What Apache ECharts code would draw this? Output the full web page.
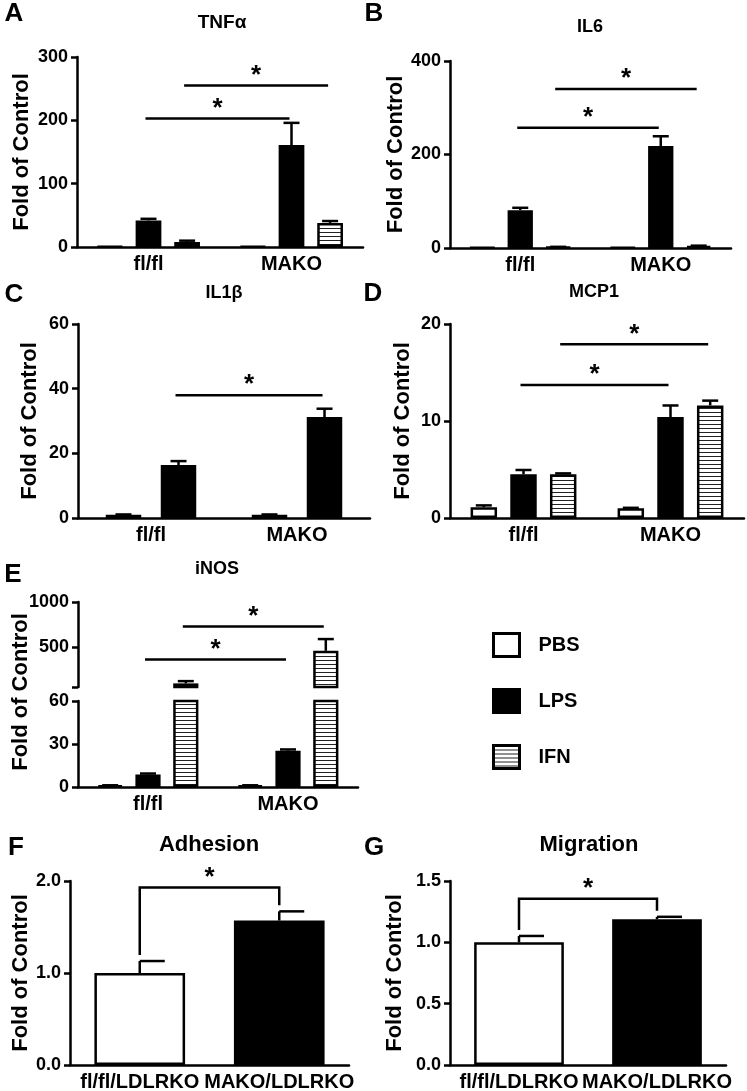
<!DOCTYPE html>
<html>
<head>
<meta charset="utf-8">
<script src="https://cdn.jsdelivr.net/npm/echarts@6/dist/echarts.min.js"></script>
<style>
  html, body { margin: 0; padding: 0; background: #fff; }
  #main { width: 747px; height: 1091px; }
</style>
</head>
<body>
<div id="main"></div>
<script>
// ---- data (values are [fl/fl, MAKO]) ----
const groups = ['fl/fl', 'MAKO'];
const groupsLdlr = ['fl/fl/LDLRKO', 'MAKO/LDLRKO'];
const treatments = ['PBS', 'LPS', 'IFN'];

const tnfPBS = [1, 1], tnfLPS = [42, 161], tnfIFN = [8, 38];
const tnfPBSErr = [0, 0], tnfLPSErr = [2.5, 35], tnfIFNErr = [2, 3];
const tnfTicks = [0, 100, 200, 300];
const tnfSig = [[1, 203], [2, 255]]; // [treatment index, height]

const il6PBS = [1, 1], il6LPS = [81, 218], il6IFN = [2, 4];
const il6PBSErr = [0, 0], il6LPSErr = [5, 21], il6IFNErr = [0.5, 1];
const il6Ticks = [0, 200, 400];
const il6Sig = [[1, 257], [2, 340]];

const il1bPBS = [1, 1], il1bLPS = [16.4, 31.2];
const il1bPBSErr = [0.1, 0.1], il1bLPSErr = [1.2, 2.6];
const il1bTicks = [0, 20, 40, 60];
const il1bSig = [[1, 38]];

const mcpPBS = [1.1, 1.0], mcpLPS = [4.5, 10.4], mcpIFN = [4.5, 11.6];
const mcpPBSErr = [0.2, 0.05], mcpLPSErr = [0.45, 1.2], mcpIFNErr = [0.1, 0.5];
const mcpTicks = [0, 10, 20];
const mcpSig = [[1, 13.7], [2, 17.9]];

const inosPBS = [1, 1], inosLPS = [8.7, 25.3], inosIFN = [100, 460];
const inosPBSErr = [0.2, 0.2], inosLPSErr = [0.7, 0.9], inosIFNErr = [25, 130];
const inosLowTicks = [0, 30, 60];
const inosHighTicks = [500, 1000];
const inosBreak = 60;
const inosSig = [[1, 365], [2, 728]];

const adhesion = [1.0, 1.57], adhesionErr = [0.13, 0.1];
const adhesionTicks = [0, 1, 2];
const adhesionSig = 1.93;

const migration = [1.0, 1.188], migrationErr = [0.052, 0.02];
const migrationTicks = [0, 0.5, 1, 1.5];
const migrationSig = 1.356;

// ---- styling helpers ----
const FONT = '"Liberation Sans", Arial, Helvetica, sans-serif';
const LW = 2.5;

const stripe = document.createElement('canvas');
stripe.width = 4; stripe.height = 4;
const sctx = stripe.getContext('2d');
sctx.fillStyle = '#fff'; sctx.fillRect(0, 0, 4, 4);
sctx.fillStyle = '#222'; sctx.fillRect(0, 0, 4, 1);
const fills = { PBS: '#fff', LPS: '#000', IFN: { image: stripe, repeat: 'repeat' } };

const option = {
  animation: false,
  backgroundColor: '#fff',
  grid: [], xAxis: [], yAxis: [], series: [], graphic: [],
  legend: {
    data: treatments,
    orient: 'vertical',
    left: 487, top: 627,
    itemWidth: 26, itemHeight: 23, itemGap: 30,
    icon: 'rect',
    selectedMode: false,
    itemStyle: { borderColor: '#000', borderWidth: 3 },
    textStyle: { fontFamily: FONT, fontWeight: 'bold', fontSize: 20, color: '#000', padding: [0, 0, 0, 14] }
  }
};

function addGrid(box) {
  option.grid.push(Object.assign({ outerBoundsMode: 'none', containLabel: false }, box));
  return option.grid.length - 1;
}

function catAxis(gi, labels, show) {
  option.xAxis.push({
    type: 'category', gridIndex: gi, data: labels, show: show !== false,
    axisLine: { lineStyle: { color: '#000', width: LW } },
    axisTick: { alignWithLabel: true, length: 6, lineStyle: { color: '#000', width: LW } },
    axisLabel: { color: '#000', fontFamily: FONT, fontWeight: 'bold', fontSize: 20, margin: 7, interval: 0 },
    splitLine: { show: false }
  });
  return option.xAxis.length - 1;
}

function valAxis(gi, ticks, name, nameGap, digits) {
  option.yAxis.push({
    type: 'value', gridIndex: gi,
    min: ticks[0], max: ticks[ticks.length - 1], interval: ticks[1] - ticks[0],
    name: name, nameLocation: 'middle', nameRotate: 90, nameGap: nameGap,
    nameTextStyle: { fontFamily: FONT, fontWeight: 'bold', fontSize: 22, color: '#000' },
    axisLine: { show: true, lineStyle: { color: '#000', width: LW } },
    axisTick: { show: true, length: 6, lineStyle: { color: '#000', width: LW } },
    axisLabel: {
      color: '#000', fontFamily: FONT, fontWeight: 'bold', fontSize: 18, margin: 9,
      formatter: (v) => digits ? v.toFixed(digits) : String(v)
    },
    splitLine: { show: false }
  });
  return option.yAxis.length - 1;
}

function barSeries(xi, yi, name, data, color, width, gap) {
  option.series.push({
    type: 'bar', name: name, xAxisIndex: xi, yAxisIndex: yi, data: data,
    barWidth: width, barGap: gap, silent: true,
    itemStyle: { color: color, borderColor: '#000', borderWidth: LW }
  });
}

// upward error bars, k = position of the bar inside its group of n
function errSeries(xi, yi, pts, k, n, step, capL, capR) {
  option.series.push({
    type: 'custom', xAxisIndex: xi, yAxisIndex: yi, silent: true, data: pts,
    renderItem: function (params, api) {
      const cat = api.value(0), m = api.value(1), e = api.value(2);
      if (!(e > 0)) return;
      const band = api.size([1, 0])[0];
      const p0 = api.coord([cat, m]);
      const x = p0[0] + (k - (n - 1) / 2) * step * band;
      const y1 = api.coord([cat, m + e])[1];
      const st = { stroke: '#000', lineWidth: LW };
      return {
        type: 'group', children: [
          { type: 'line', shape: { x1: x, y1: p0[1], x2: x, y2: y1 }, style: st },
          { type: 'line', shape: { x1: x - capL, y1: y1, x2: x + capR, y2: y1 }, style: st }
        ]
      };
    }
  });
}

function star(x, y) {
  return {
    type: 'text', x: x, y: y,
    style: { text: '*', font: 'bold 26px ' + FONT, fill: '#000', textAlign: 'center', textVerticalAlign: 'middle', align: 'center', verticalAlign: 'middle' }
  };
}

// significance line joining the same treatment in both genotypes
function sigSeries(xi, yi, sig, n, step) {
  option.series.push({
    type: 'custom', xAxisIndex: xi, yAxisIndex: yi, silent: true, data: sig,
    renderItem: function (params, api) {
      const k = api.value(0), h = api.value(1);
      const band = api.size([1, 0])[0];
      const off = (k - (n - 1) / 2) * step * band;
      const a = api.coord([0, h]), b = api.coord([1, h]);
      const xa = a[0] + off - 3, xb = b[0] + off - 2;
      return {
        type: 'group', children: [
          { type: 'line', shape: { x1: xa, y1: a[1], x2: xb, y2: a[1] }, style: { stroke: '#000', lineWidth: LW } },
          star((xa + xb) / 2, a[1] - 10)
        ]
      };
    }
  });
}

function bracketSeries(xi, yi, means, errs, top) {
  option.series.push({
    type: 'custom', xAxisIndex: xi, yAxisIndex: yi, silent: true, data: [[0, top]],
    renderItem: function (params, api) {
      const yTop = api.coord([0, top])[1];
      const xa = api.coord([0, 0])[0], xb = api.coord([1, 0])[0];
      const ya = api.coord([0, means[0] + errs[0]])[1] - 6;
      const yb = api.coord([1, means[1] + errs[1]])[1] - 6;
      return {
        type: 'group', children: [
          { type: 'polyline', shape: { points: [[xa, ya], [xa, yTop], [xb, yTop], [xb, yb]] }, style: { stroke: '#000', lineWidth: LW, fill: null } },
          star((xa + xb) / 2, yTop - 10)
        ]
      };
    }
  });
}

function pts(means, errs) {
  return means.map((m, i) => [i, m, errs[i]]);
}

function text(str, x, y, size, rot) {
  option.graphic.push({
    type: 'text', x: x, y: y, rotation: rot || 0,
    style: { text: str, font: 'bold ' + size + 'px ' + FONT, fill: '#000', textAlign: 'center', textVerticalAlign: 'middle', align: 'center', verticalAlign: 'middle' }
  });
}

// three-treatment panel
const W3 = '18%', G3 = '50%', STEP3 = 0.27;
function panel3(box, ticks, nameGap, series, sig) {
  const gi = addGrid(box);
  const xi = catAxis(gi, groups);
  const yi = valAxis(gi, ticks, 'Fold of Control', nameGap);
  const n = series.length;
  series.forEach((s) => {
    barSeries(xi, yi, s[0], s[1], fills[s[0]], s.width || W3, s.gap || G3);
  });
  series.forEach((s, k) => errSeries(xi, yi, pts(s[1], s[2]), k, n, s.step || STEP3, 8, 8));
  sigSeries(xi, yi, sig, n, series[0].step || STEP3);
}

// A: TNFa
panel3({ left: 77, top: 57, width: 286, height: 190 }, tnfTicks, 44,
  [['PBS', tnfPBS, tnfPBSErr], ['LPS', tnfLPS, tnfLPSErr], ['IFN', tnfIFN, tnfIFNErr]], tnfSig);
// B: IL6
panel3({ left: 450, top: 61, width: 281, height: 187 }, il6Ticks, 43,
  [['PBS', il6PBS, il6PBSErr], ['LPS', il6LPS, il6LPSErr], ['IFN', il6IFN, il6IFNErr]], il6Sig);
// C: IL1b (two treatments, wider bars)
(function () {
  const s = [['PBS', il1bPBS, il1bPBSErr], ['LPS', il1bLPS, il1bLPSErr]];
  s.forEach(d => { d.width = '24.3%'; d.gap = '55%'; d.step = 0.377; });
  panel3({ left: 78, top: 324, width: 292, height: 194 }, il1bTicks, 37, s, il1bSig);
})();
// D: MCP1
panel3({ left: 450, top: 324, width: 294, height: 194 }, mcpTicks, 36,
  [['PBS', mcpPBS, mcpPBSErr], ['LPS', mcpLPS, mcpLPSErr], ['IFN', mcpIFN, mcpIFNErr]], mcpSig);

// E: iNOS with a broken y axis
(function () {
  const gHigh = addGrid({ left: 78, top: 602, width: 280, height: 85 });
  const gLow = addGrid({ left: 78, top: 701, width: 280, height: 86 });
  const xh = catAxis(gHigh, groups, false);
  const xl = catAxis(gLow, groups);
  option.yAxis.push({
    type: 'value', gridIndex: gHigh, min: inosBreak, max: inosHighTicks[inosHighTicks.length - 1],
    axisLine: { show: true, lineStyle: { color: '#000', width: LW } },
    axisTick: { show: true, length: 6, customValues: [inosBreak].concat(inosHighTicks), lineStyle: { color: '#000', width: LW } },
    axisLabel: {
      color: '#000', fontFamily: FONT, fontWeight: 'bold', fontSize: 18, margin: 9,
      customValues: inosHighTicks, formatter: (v) => String(v)
    },
    splitLine: { show: false }
  });
  const yh = option.yAxis.length - 1;
  const yl = valAxis(gLow, inosLowTicks, '', 40);
  const s = [['PBS', inosPBS, inosPBSErr], ['LPS', inosLPS, inosLPSErr], ['IFN', inosIFN, inosIFNErr]];
  s.forEach((d) => {
    barSeries(xl, yl, d[0], d[1], fills[d[0]], W3, G3);
    barSeries(xh, yh, d[0], d[1].map(v => v > inosBreak ? v : null), fills[d[0]], W3, G3);
  });
  s.forEach((d, k) => {
    const all = pts(d[1], d[2]);
    errSeries(xl, yl, all.filter(p => p[1] < inosBreak), k, 3, STEP3, 8, 8);
    errSeries(xh, yh, all.filter(p => p[1] >= inosBreak), k, 3, STEP3, 8, 8);
  });
  sigSeries(xh, yh, inosSig, 3, STEP3);
  text('Fold of Control', 21, 692, 22, Math.PI / 2);
})();

// F / G: single bar per genotype
function panel2(box, labels, vals, errs, ticks, nameGap, sig) {
  const gi = addGrid(box);
  const xi = catAxis(gi, labels);
  const yi = valAxis(gi, ticks, 'Fold of Control', nameGap, 1);
  const colors = ['#fff', '#000'];
  option.series.push({
    type: 'bar', xAxisIndex: xi, yAxisIndex: yi, data: vals, barWidth: '65%', silent: true,
    itemStyle: { color: (p) => colors[p.dataIndex], borderColor: '#000', borderWidth: LW }
  });
  errSeries(xi, yi, pts(vals, errs), 0, 1, 0, 0, 25);
  bracketSeries(xi, yi, vals, errs, sig);
}
panel2({ left: 70, top: 881, width: 279, height: 184 }, groupsLdlr, adhesion, adhesionErr, adhesionTicks, 37, adhesionSig);
panel2({ left: 450, top: 881, width: 276, height: 184 }, groupsLdlr, migration, migrationErr, migrationTicks, 44, migrationSig);

// titles and panel letters
text('TNF\u03b1', 222, 23, 19);
text('IL6', 590, 27, 18);
text('IL1\u03b2', 224, 293, 18);
text('MCP1', 594, 292, 18);
text('iNOS', 217, 569, 18);
text('Adhesion', 209, 845, 22);
text('Migration', 589, 845, 22);
[['A', 14, 14], ['B', 374, 14], ['C', 14, 295], ['D', 373, 294], ['E', 13, 575], ['F', 16, 848], ['G', 374, 848]]
  .forEach(l => text(l[0], l[1], l[2], 26));

const chart = echarts.init(document.getElementById('main'));
chart.setOption(option);
</script>
</body>
</html>
